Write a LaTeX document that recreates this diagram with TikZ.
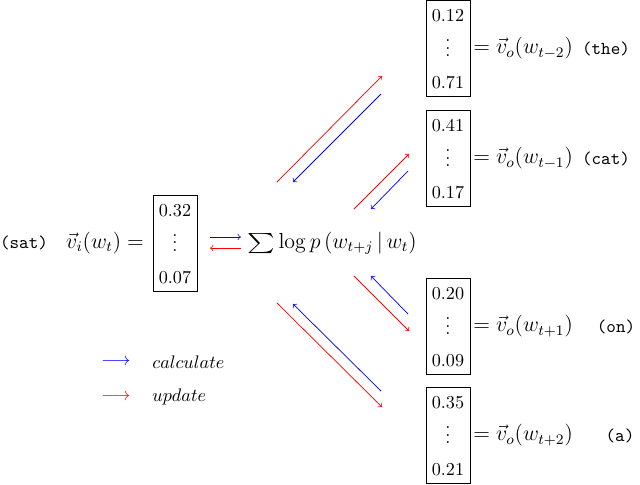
\documentclass[tikz,border=0pt]{standalone}
\usepackage{amsmath}
\usepackage{graphicx}
\begin{document}
\begin{tikzpicture}[x=0.55pt,y=-0.55pt,
  vecbox/.style={draw,minimum width=24.2pt,minimum height=52.8pt,inner sep=0pt},
  num/.style={anchor=base,inner sep=0pt},
  calc/.style={blue,->,line width=0.4pt},
  upd/.style={red,->,line width=0.4pt}]
\useasboundingbox (0,0) rectangle (640,484);
% left vector
\node (sat) at (24,243) {\texttt{(sat)}};
\node[font=\large] (vi) at (105,243) {$\vec{v}_i(w_t) =$};
\node[vecbox] (L) at (175,243) {};
\node[num] (L1) at (175,216) {$0.32$};
\node[num] (Ld) at (175,251) {$\vdots$};
\node[num] (L2) at (175,283) {$0.07$};
% sum
\node[font=\large] (S) at (332,243) {$\scalebox{1.2}[0.92]{$\sum$}\log p\,(w_{t+j}\,|\,w_t)$};
% right vectors
\foreach \n/\c/\a/\b/\lab/\w/\wx in {
  1/48.5/0.12/0.71/{t-2}/the/606,
  2/158.5/0.41/0.17/{t-1}/cat/606,
  3/326.5/0.20/0.09/{t+1}/on/616,
  4/435.5/0.35/0.21/{t+2}/a/620}{
  \node[vecbox] (R\n) at (448,\c) {};
  \node[num] (R\n t) at (448,\c-27) {$\a$};
  \node[num] (R\n d) at (448,\c+8) {$\vdots$};
  \node[num] (R\n b) at (448,\c+40) {$\b$};
  \node[anchor=west,inner sep=0pt,font=\large] (E\n) at (473,\c) {$= \vec{v}_o(w_{\lab})$};
  \node (W\n) at (\wx,\c) {\texttt{(\w)}};
}
% horizontal arrows
\draw[calc] ([yshift=3.3pt,xshift=7pt]L.east) -- ([yshift=3.3pt]S.west);
\draw[upd] ([yshift=-2.8pt]S.west) -- ([yshift=-2.8pt,xshift=7pt]L.east);
% diagonal arrows
\coordinate (u1a) at (277,182); \coordinate (u1b) at (382,76);
\coordinate (c1a) at (381,94);  \coordinate (c1b) at (293,182);
\coordinate (u2a) at (354,209); \coordinate (u2b) at (409,154);
\coordinate (c2a) at (408,171); \coordinate (c2b) at (371,209);
\coordinate (u3a) at (354,276); \coordinate (u3b) at (409,331);
\coordinate (c3a) at (408,314); \coordinate (c3b) at (371,276);
\coordinate (u4a) at (277,303); \coordinate (u4b) at (382,407);
\coordinate (c4a) at (381,391); \coordinate (c4b) at (293,304);
\draw[upd] (u1a) -- (u1b);
\draw[calc] (c1a) -- (c1b);
\draw[upd] (u2a) -- (u2b);
\draw[calc] (c2a) -- (c2b);
\draw[upd] (u3a) -- (u3b);
\draw[calc] (c3a) -- (c3b);
\draw[upd] (u4a) -- (u4b);
\draw[calc] (c4a) -- (c4b);
% legend
\node (g1) at (116,362) {\color{blue}$\longrightarrow$};
\node[anchor=west] (t1) at (146,362) {$calculate$};
\node (g2) at (116,397) {\color{red}$\longrightarrow$};
\node[anchor=west] (t2) at (146,397) {$update$};
\end{tikzpicture}
\end{document}
